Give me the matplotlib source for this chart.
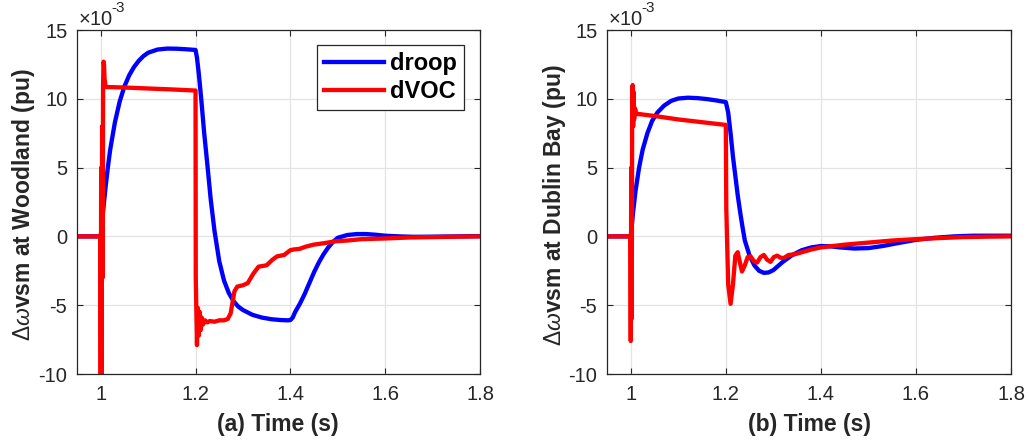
import matplotlib
matplotlib.use("Agg")
import matplotlib.pyplot as plt

plt.rcParams['font.family'] = ['Liberation Sans', 'DejaVu Sans']
plt.rcParams['mathtext.fontset'] = 'custom'
plt.rcParams['mathtext.rm'] = 'Liberation Sans'
plt.rcParams['mathtext.it'] = 'Liberation Sans:italic'
plt.rcParams['mathtext.bf'] = 'Liberation Sans:bold'

# ---------------- data (values in units of 1e-3 pu) ----------------
# (a) Woodland, droop
t_a_droop = [0.95, 1.0, 1.005, 1.01, 1.015, 1.02, 1.03, 1.04, 1.05, 1.06, 1.07, 1.08, 1.09,
             1.10, 1.12, 1.14, 1.16, 1.18, 1.20, 1.203, 1.207, 1.212, 1.218, 1.225, 1.232,
             1.24, 1.25, 1.26, 1.27, 1.28, 1.29, 1.30, 1.32, 1.34, 1.36, 1.38, 1.395, 1.40,
             1.405, 1.41, 1.42, 1.43, 1.44, 1.45, 1.46, 1.47, 1.48, 1.49, 1.50, 1.52, 1.54,
             1.56, 1.58, 1.60, 1.63, 1.66, 1.70, 1.75, 1.80]
v_a_droop = [0.0, 0.0, 1.8, 3.5, 5.0, 6.3, 8.3, 9.8, 10.9, 11.7, 12.3, 12.75, 13.1,
             13.35, 13.58, 13.65, 13.64, 13.6, 13.55, 13.0, 11.8, 10.0, 7.6, 5.2, 2.7,
             0.4, -1.8, -3.2, -4.1, -4.7, -5.1, -5.35, -5.7, -5.9, -6.02, -6.08, -6.1, -6.08,
             -5.9, -5.5, -4.9, -4.2, -3.4, -2.6, -1.9, -1.3, -0.8, -0.4, -0.1, 0.1, 0.17,
             0.17, 0.12, 0.05, 0.0, -0.03, -0.02, 0.0, 0.02]

# (a) Woodland, dVOC
t_a_dvoc = [0.95, 0.999, 1.0, 1.001, 1.002, 1.003, 1.004, 1.005, 1.006, 1.007, 1.008, 1.009,
            1.010, 1.012, 1.02, 1.05, 1.10, 1.15, 1.20, 1.2005, 1.203, 1.205, 1.207, 1.209,
            1.211, 1.213, 1.216, 1.22, 1.225, 1.23, 1.24, 1.25, 1.26, 1.268, 1.274, 1.282,
            1.288, 1.30, 1.31, 1.322, 1.333, 1.35, 1.362, 1.372, 1.387, 1.40, 1.407, 1.42,
            1.432, 1.449, 1.47, 1.496, 1.52, 1.55, 1.60, 1.65, 1.70, 1.75, 1.80]
v_a_dvoc = [0.0, 0.0, -12.0, 5.0, -11.0, 8.0, -3.0, 11.0, 12.7, 12.5, 11.5, 11.2,
            11.0, 10.85, 10.85, 10.82, 10.75, 10.68, 10.6, -3.0, -7.9, -5.2, -7.2, -5.5,
            -6.8, -5.9, -6.4, -6.1, -6.25, -6.15, -6.2, -6.1, -6.1, -6.0, -5.6, -4.0,
            -3.65, -3.55, -3.4, -2.7, -2.2, -2.1, -1.7, -1.45, -1.35, -1.0, -0.95, -0.9,
            -0.75, -0.6, -0.5, -0.35, -0.3, -0.2, -0.15, -0.08, -0.05, -0.02, 0.0]

# (b) Dublin Bay, droop
t_b_droop = [0.95, 1.0, 1.005, 1.01, 1.0175, 1.025, 1.035, 1.045, 1.056, 1.07, 1.085, 1.10,
             1.12, 1.14, 1.16, 1.18, 1.20, 1.205, 1.21, 1.215, 1.22, 1.225, 1.23, 1.235,
             1.24, 1.25, 1.26, 1.27, 1.28, 1.29, 1.30, 1.31, 1.32, 1.33, 1.34, 1.36, 1.38,
             1.40, 1.42, 1.44, 1.47, 1.50, 1.53, 1.56, 1.60, 1.64, 1.68, 1.72, 1.76, 1.80]
v_b_droop = [0.0, 0.0, 1.8, 3.3, 5.0, 6.3, 7.5, 8.4, 9.0, 9.5, 9.85, 10.02,
             10.08, 10.05, 9.98, 9.88, 9.76, 9.0, 7.5, 5.8, 4.4, 3.0, 1.8, 0.7,
             -0.3, -1.4, -2.1, -2.5, -2.65, -2.62, -2.45, -2.15, -1.85, -1.6, -1.35, -1.0, -0.8,
             -0.7, -0.72, -0.8, -0.88, -0.85, -0.7, -0.5, -0.25, -0.1, 0.0, 0.05, 0.05, 0.05]

# (b) Dublin Bay, dVOC
t_b_dvoc = [0.95, 0.999, 1.0, 1.001, 1.002, 1.003, 1.004, 1.005, 1.006, 1.007, 1.009, 1.012,
            1.02, 1.05, 1.10, 1.15, 1.20, 1.201, 1.205, 1.21, 1.215, 1.22, 1.225, 1.229,
            1.234, 1.24, 1.246, 1.252, 1.259, 1.266, 1.273, 1.28, 1.287, 1.294, 1.301, 1.308,
            1.315, 1.322, 1.332, 1.345, 1.36, 1.38, 1.40, 1.45, 1.50, 1.55, 1.60, 1.65,
            1.70, 1.75, 1.80]
v_b_dvoc = [0.0, 0.0, -7.6, 5.0, -6.0, 10.0, 11.0, 8.0, 10.5, 8.5, 9.3, 8.9,
            8.88, 8.75, 8.5, 8.3, 8.1, 2.0, -3.5, -4.9, -3.5, -1.4, -1.15, -1.8,
            -2.55, -2.1, -1.5, -1.45, -1.8, -1.9, -1.5, -1.35, -1.7, -1.85, -1.5, -1.4,
            -1.55, -1.57, -1.35, -1.3, -1.15, -0.95, -0.8, -0.6, -0.45, -0.3, -0.2, -0.12,
            -0.05, -0.02, 0.0]

x_ticks = [1.0, 1.2, 1.4, 1.6, 1.8]
x_tick_labels = ['1', '1.2', '1.4', '1.6', '1.8']
y_ticks = [-10, -5, 0, 5, 10, 15]
y_tick_labels = ['-10', '-5', '0', '5', '10', '15']
series_names = ['droop', 'dVOC']
x_labels = ['(a) Time (s)', '(b) Time (s)']
y_labels = [r'$\Delta\omega$vsm at Woodland (pu)', r'$\Delta\omega$vsm at Dublin Bay (pu)']

# ---------------- figure ----------------
W, H = 1029, 445
fig = plt.figure(figsize=(W / 100, H / 100), dpi=100)

dark = '#262626'
panels = [
    (77, 480, t_a_droop, v_a_droop, t_a_dvoc, v_a_dvoc, 24, 278),
    (607, 1011, t_b_droop, v_b_droop, t_b_dvoc, v_b_dvoc, 555, 809),
]
top, bottom = 30, 374

for i, (x0, x1, td, vd, tv, vv, ylx, xlx) in enumerate(panels):
    ax = fig.add_axes([x0 / W, 1 - bottom / H, (x1 - x0) / W, (bottom - top) / H])
    ax.plot(td, vd, color=(0, 0, 1), lw=3.1, label=series_names[0], solid_joinstyle='round')
    ax.plot(tv, vv, color=(1, 0, 0), lw=3.1, label=series_names[1], solid_joinstyle='round')
    ax.set_xlim(0.95, 1.8)
    ax.set_ylim(-10, 15)
    ax.set_xticks(x_ticks)
    ax.set_xticklabels(x_tick_labels)
    ax.set_yticks(y_ticks)
    ax.set_yticklabels(y_tick_labels)
    ax.grid(True, color='#e3e3e3', lw=0.9)
    ax.set_axisbelow(True)
    ax.tick_params(direction='in', top=True, right=True, length=4.5, width=0.8,
                   colors=dark, labelsize=14.5, labelcolor=dark)
    ax.tick_params(axis='x', pad=8)
    ax.tick_params(axis='y', pad=7)
    for s in ax.spines.values():
        s.set_color(dark)
        s.set_linewidth(0.9)
    ax.text(0.002, 1.014, r'$\times$10', transform=ax.transAxes, ha='left', va='baseline',
            fontsize=14.5, color=dark)
    ax.text(0.086, 1.052, '-3', transform=ax.transAxes, ha='left', va='baseline',
            fontsize=11, color=dark)
    fig.text(ylx / W, 1 - 205 / H, y_labels[i], rotation=90, ha='center', va='center',
             fontsize=16.5, fontweight='bold', color=dark)
    fig.text(xlx / W, 1 - 425 / H, x_labels[i], ha='center', va='center',
             fontsize=16.5, fontweight='bold', color=dark)
    if i == 0:
        leg = ax.legend(loc='upper right', bbox_to_anchor=(0.960, 0.956), borderaxespad=0,
                        fancybox=False, framealpha=1, edgecolor=dark,
                        prop={'size': 17, 'weight': 'bold'}, handlelength=2.55,
                        handletextpad=0.25, labelspacing=0.2, borderpad=0.3)
        leg.get_frame().set_linewidth(0.9)

fig.savefig('out.png', dpi=100)
